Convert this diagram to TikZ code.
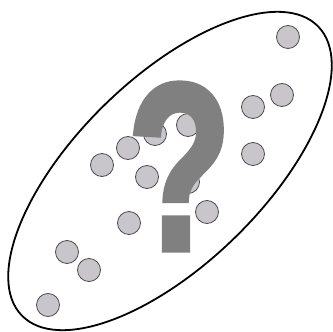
\documentclass[tikz,border=0pt]{standalone}
\usepackage{fontspec}
\newfontfamily\qfont{Liberation Sans}[BoldFeatures={FakeBold=2.5}]
\definecolor{dotfill}{HTML}{C8C6CA}
\definecolor{dotline}{HTML}{4C4C4C}
\definecolor{qgray}{HTML}{808080}
\begin{document}
\begin{tikzpicture}[x=1pt,y=-1pt,
  dot/.style={circle, draw=dotline, fill=dotfill, line width=0.8pt, minimum size=23pt, inner sep=0pt},
  qmark/.style={text=qgray, inner sep=0pt, anchor=base}]
\useasboundingbox (0,0) rectangle (333,332);
\draw[line width=1.8pt, rotate around={44.3:(170,171)}] (170,171) ellipse [x radius=207pt, y radius=93pt];
\node[dot] (c1) at (288,37) {};
\node[dot] (c2) at (282,95) {};
\node[dot] (c3) at (253,107) {};
\node[dot] (c4) at (253,154) {};
\node[dot] (c5) at (188,125) {};
\node[dot] (c6) at (155,134) {};
\node[dot] (c7) at (128,148) {};
\node[dot] (c8) at (102,165) {};
\node[dot] (c9) at (147,177) {};
\node[dot] (c10) at (188,182) {};
\node[dot] (c11) at (207,212) {};
\node[dot] (c12) at (129,223) {};
\node[dot] (c13) at (67,252) {};
\node[dot] (c14) at (89,270) {};
\node[dot] (c15) at (48,305) {};
\node[qmark] (q) at (179.5,249.7) {\qfont\bfseries\resizebox{104pt}{166pt}{?}};
\end{tikzpicture}
\end{document}
